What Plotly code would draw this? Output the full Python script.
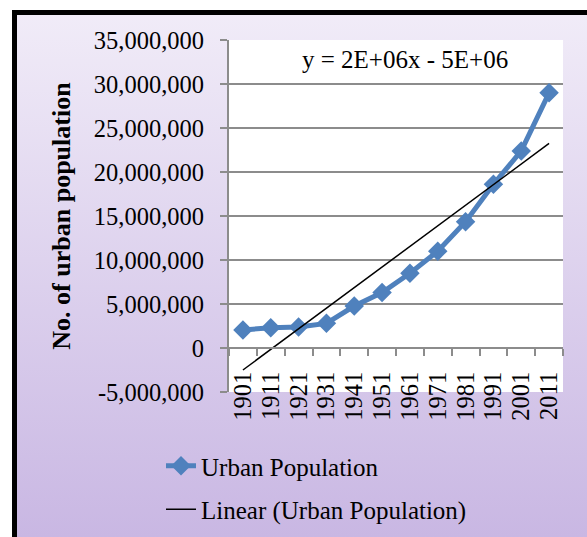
import base64
import numpy as np
import plotly.graph_objects as go

# Census years and urban population counts
years = ["1901", "1911", "1921", "1931", "1941", "1951",
         "1961", "1971", "1981", "1991", "2001", "2011"]
urban_population = [2050000, 2300000, 2400000, 2800000, 4770000, 6300000,
                    8500000, 11000000, 14350000, 18600000, 22400000, 29000000]

# Value axis ticks
y_ticks = [-5000000, 0, 5000000, 10000000, 15000000, 20000000,
           25000000, 30000000, 35000000]
y_tick_text = [f"{v:,}" for v in y_ticks]

# Least-squares linear trend over category index 1..n (spreadsheet style)
idx = np.arange(1, len(years) + 1)
slope, intercept = np.polyfit(idx, urban_population, 1)
trend = slope * idx + intercept
sign = "-" if intercept < 0 else "+"
equation = f"y = {slope:.0E}x {sign} {abs(intercept):.0E}"

W, H = 587, 537
L, R, T, B = 229, 24, 40, 145
PW, PH = W - L - R, H - T - B


def px_x(px):
    return (px - L) / PW


def px_y(py):
    return (H - B - py) / PH


FONT = "Times New Roman, Liberation Serif, serif"
BLUE = "#4F81BD"
GRID = "#8C8C8C"

fig = go.Figure()
fig.add_trace(go.Scatter(
    x=years, y=urban_population, name="Urban Population",
    mode="lines+markers", legendgroup="a",
    line=dict(color=BLUE, width=5),
    marker=dict(symbol="diamond", size=15, color=BLUE),
))
fig.add_trace(go.Scatter(
    x=years, y=trend, name="Linear (Urban Population)",
    mode="lines", legendgroup="b",
    line=dict(color="black", width=1.5),
))

# Lavender gradient backdrop for the chart frame
svg = (
    '<svg xmlns="http://www.w3.org/2000/svg" width="575" height="527" '
    'preserveAspectRatio="none"><defs><linearGradient id="g" x1="0" y1="0" '
    'x2="0" y2="1"><stop offset="0" stop-color="#F1ECF8"/>'
    '<stop offset="1" stop-color="#C9B7E3"/></linearGradient></defs>'
    '<rect width="100%" height="100%" fill="url(#g)"/></svg>'
)
src = "data:image/svg+xml;base64," + base64.b64encode(svg.encode()).decode()
fig.add_layout_image(dict(
    source=src, xref="paper", yref="paper",
    x=px_x(12), y=px_y(10), sizex=(W - 12) / PW, sizey=(H - 10) / PH,
    xanchor="left", yanchor="top", sizing="stretch", layer="below",
))

# White plotting area
fig.add_shape(type="rect", xref="x domain", yref="y domain",
              x0=0, x1=1, y0=0, y1=1, fillcolor="white",
              line=dict(width=0), layer="below")
# Thick frame border
fig.add_shape(type="rect", xref="paper", yref="paper",
              x0=px_x(14.5), x1=px_x(640), y0=px_y(12.5), y1=px_y(600),
              line=dict(color="black", width=5), fillcolor="rgba(0,0,0,0)",
              layer="above")

fig.add_annotation(
    text=equation, xref="paper", yref="paper",
    x=px_x(405), y=px_y(60), xanchor="center", yanchor="middle",
    showarrow=False, font=dict(family=FONT, size=25, color="black"),
)

y_min, y_max = -5000000, 35000000
fig.update_layout(
    width=W, height=H,
    margin=dict(l=L, r=R, t=T, b=B, autoexpand=False),
    paper_bgcolor="white", plot_bgcolor="white",
    font=dict(family=FONT, color="black"),
    showlegend=True,
    legend=dict(
        x=px_x(161), y=px_y(443), xanchor="left", yanchor="top",
        bgcolor="rgba(0,0,0,0)", font=dict(family=FONT, size=25),
        traceorder="grouped", tracegroupgap=8,
    ),
    xaxis=dict(
        type="category", range=[-0.5, len(years) - 0.5],
        tickmode="array", tickvals=years, ticktext=years,
        anchor="free", position=(0 - y_min) / (y_max - y_min),
        showline=True, linecolor=GRID, linewidth=2,
        ticks="outside", tickson="boundaries", ticklen=7,
        tickcolor=GRID, tickwidth=2,
        tickangle=-90, ticklabelstandoff=13,
        tickfont=dict(family=FONT, size=24.5),
        showgrid=False, zeroline=False, automargin=False,
    ),
    yaxis=dict(
        range=[y_min, y_max], tickvals=y_ticks, ticktext=y_tick_text,
        showline=True, linecolor=GRID, linewidth=2,
        ticks="outside", ticklen=7, tickcolor=GRID, tickwidth=2,
        ticklabelstandoff=11,
        tickfont=dict(family=FONT, size=24.5),
        showgrid=True, gridcolor=GRID, gridwidth=1.5,
        zeroline=False, automargin=False,
        title=dict(text="<b>No. of urban population</b>",
                   font=dict(family=FONT, size=26), standoff=16),
    ),
)

fig.write_html("out.html")
